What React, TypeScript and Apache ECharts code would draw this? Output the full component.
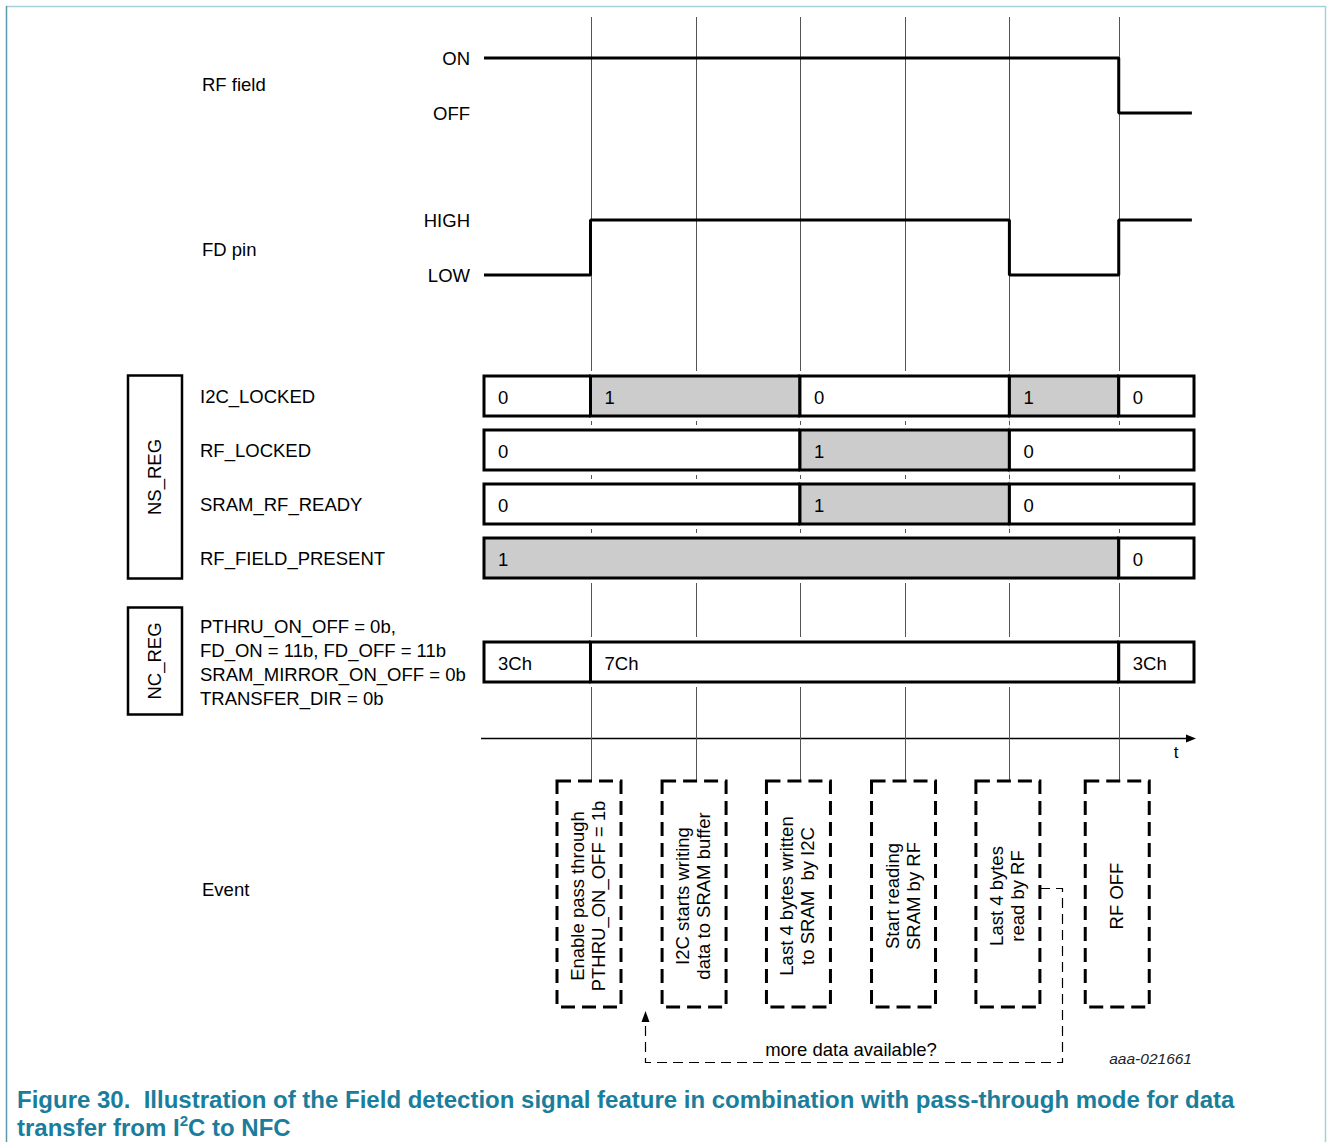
import React, { useEffect, useRef } from 'react';
import * as echarts from 'echarts';

const FF = "'Liberation Sans', Arial, Helvetica, sans-serif";
const FS = 18.5;

// time axis (arbitrary units)
const timeMin = 0;
const timeMax = 100;
const eventTimes = [15, 29.8, 44.5, 59.3, 74, 89.4];
const eventLabels = [
  'Enable pass through\nPTHRU_ON_OFF = 1b',
  'I2C starts writing\ndata to SRAM buffer',
  'Last 4 bytes written\nto SRAM  by I2C',
  'Start reading\nSRAM by RF',
  'Last 4 bytes\nread by RF',
  'RF OFF',
];

// waveforms
const rfLevels = ['OFF', 'ON'];
const rfField = [[0, 1], [89.4, 0], [99.7, 0]];
const fdLevels = ['LOW', 'HIGH'];
const fdPin = [[0, 0], [15, 1], [74, 0], [89.4, 1], [99.7, 1]];

// NS_REG bits: [value, start, end]
const nsRegNames = ['I2C_LOCKED', 'RF_LOCKED', 'SRAM_RF_READY', 'RF_FIELD_PRESENT'];
const i2cLocked = [['0', 0, 15], ['1', 15, 44.5], ['0', 44.5, 74], ['1', 74, 89.4], ['0', 89.4, 100]];
const rfLocked = [['0', 0, 44.5], ['1', 44.5, 74], ['0', 74, 100]];
const sramRfReady = [['0', 0, 44.5], ['1', 44.5, 74], ['0', 74, 100]];
const rfFieldPresent = [['1', 0, 89.4], ['0', 89.4, 100]];

// NC_REG
const ncRegSettings = [
  'PTHRU_ON_OFF = 0b,',
  'FD_ON = 11b, FD_OFF = 11b',
  'SRAM_MIRROR_ON_OFF = 0b',
  'TRANSFER_DIR = 0b',
];
const ncRegValues = [['3Ch', 0, 15], ['7Ch', 15, 89.4], ['3Ch', 89.4, 100]];

type Seg = { label: string; start: number; end: number; row: number; on: boolean };

function buildSegs(rows: any[][], grayValue: string | null): Seg[] {
  const out: Seg[] = [];
  rows.forEach((segs, r) => {
    segs.forEach((s: any) => {
      out.push({ label: s[0], start: s[1], end: s[2], row: r, on: grayValue !== null && s[0] === grayValue });
    });
  });
  return out;
}

const nsSegs = buildSegs([i2cLocked, rfLocked, sramRfReady, rfFieldPresent], '1');
const ncSegs = buildSegs([ncRegValues], null);

function segRender(segs: Seg[]) {
  return (params: any, api: any) => {
    const seg = segs[params.dataIndex];
    const p0 = api.coord([seg.start, seg.row]);
    const p1 = api.coord([seg.end, seg.row]);
    const band = api.size([0, 1])[1];
    const h = (band * 40) / 54;
    const halo = (band * 50) / 54;
    return {
      type: 'group',
      children: [
        { type: 'rect', shape: { x: p0[0], y: p0[1] - halo / 2, width: p1[0] - p0[0], height: halo }, style: { fill: '#fff' } },
        {
          type: 'rect',
          shape: { x: p0[0], y: p0[1] - h / 2, width: p1[0] - p0[0], height: h },
          style: { fill: seg.on ? '#cccccc' : '#ffffff', stroke: '#000', lineWidth: 3 },
        },
        {
          type: 'text',
          x: p0[0] + 14,
          y: p0[1] + 1,
          style: { text: seg.label, fontSize: FS, fontFamily: FF, fill: '#000', align: 'left', verticalAlign: 'middle' },
        },
      ],
    };
  };
}

const GL = 484;
const GW = 710;

export default function App() {
  const ref = useRef<HTMLDivElement>(null);
  useEffect(() => {
    if (!ref.current) return;
    const chart = echarts.init(ref.current, undefined, { renderer: 'svg' });
    const hiddenX = (gi: number) => ({ type: 'value', gridIndex: gi, min: timeMin, max: timeMax, show: false });
    const levelY = (gi: number, names: string[]) => ({
      type: 'value',
      gridIndex: gi,
      min: 0,
      max: 1,
      interval: 1,
      axisLine: { show: false },
      axisTick: { show: false },
      splitLine: { show: false },
      axisLabel: {
        formatter: (v: number) => names[v],
        fontSize: FS,
        fontFamily: FF,
        color: '#000',
        margin: 14,
        padding: [3, 0, 0, 0],
      },
    });
    const option: any = {
      animation: false,
      backgroundColor: '#fff',
      grid: [
        { left: GL, width: GW, top: 58, height: 55 },
        { left: GL, width: GW, top: 220, height: 55 },
        { left: GL, width: GW, top: 369, height: 216 },
        { left: GL, width: GW, top: 635, height: 54 },
        { left: GL, width: GW, top: 17, height: 763 },
        { left: GL, width: GW, top: 781, height: 226 },
      ],
      xAxis: [0, 1, 2, 3, 4, 5].map(hiddenX),
      yAxis: [
        levelY(0, rfLevels),
        levelY(1, fdLevels),
        {
          type: 'category',
          gridIndex: 2,
          inverse: true,
          data: nsRegNames,
          axisLine: { show: false },
          axisTick: { show: false },
          axisLabel: { align: 'left', margin: 284, fontSize: FS, fontFamily: FF, color: '#000', padding: [6, 0, 0, 0] },
        },
        {
          type: 'category',
          gridIndex: 3,
          data: ['NC_REG'],
          axisLine: { show: false },
          axisTick: { show: false },
          axisLabel: {
            align: 'left',
            margin: 284,
            fontSize: FS,
            lineHeight: 24,
            fontFamily: FF,
            color: '#000',
            padding: [2, 0, 0, 0],
            formatter: () => ncRegSettings.join('\n'),
          },
        },
        { type: 'value', gridIndex: 4, min: 0, max: 1, show: false },
        { type: 'value', gridIndex: 5, min: 0, max: 1, show: false },
      ],
      series: [
        {
          type: 'custom',
          name: 'event lines',
          xAxisIndex: 4,
          yAxisIndex: 4,
          z: 1,
          data: eventTimes.map((t) => [t, 0]),
          renderItem: (params: any, api: any) => {
            const x = Math.round(api.coord([api.value(0), 0])[0]) + 0.5;
            const cs = params.coordSys;
            return {
              type: 'line',
              shape: { x1: x, y1: cs.y, x2: x, y2: cs.y + cs.height },
              style: { stroke: '#555', lineWidth: 1 },
            };
          },
        },
        {
          type: 'line',
          name: 'RF field',
          xAxisIndex: 0,
          yAxisIndex: 0,
          step: 'end',
          data: rfField,
          symbol: 'none',
          clip: false,
          z: 5,
          lineStyle: { color: '#000', width: 3 },
        },
        {
          type: 'line',
          name: 'FD pin',
          xAxisIndex: 1,
          yAxisIndex: 1,
          step: 'end',
          data: fdPin,
          symbol: 'none',
          clip: false,
          z: 5,
          lineStyle: { color: '#000', width: 3 },
        },
        {
          type: 'custom',
          name: 'NS_REG',
          xAxisIndex: 2,
          yAxisIndex: 2,
          z: 3,
          data: nsSegs.map((s) => [s.start, s.row]),
          renderItem: segRender(nsSegs),
        },
        {
          type: 'custom',
          name: 'NC_REG',
          xAxisIndex: 3,
          yAxisIndex: 3,
          z: 3,
          data: ncSegs.map((s) => [s.start, s.row]),
          renderItem: segRender(ncSegs),
        },
        {
          type: 'custom',
          name: 'events',
          xAxisIndex: 5,
          yAxisIndex: 5,
          z: 3,
          data: eventTimes.map((t) => [t, 0]),
          renderItem: (params: any, api: any) => {
            const cx = api.coord([api.value(0), 0])[0] - 1.5;
            const cs = params.coordSys;
            const w = 64;
            return {
              type: 'group',
              children: [
                {
                  type: 'rect',
                  shape: { x: cx - w / 2, y: cs.y, width: w, height: cs.height },
                  style: { fill: 'none', stroke: '#000', lineWidth: 3, lineDash: [14, 7] },
                },
                {
                  type: 'text',
                  x: cx - 1,
                  y: cs.y + cs.height / 2 + 2,
                  rotation: Math.PI / 2,
                  style: {
                    text: eventLabels[params.dataIndex],
                    fontSize: FS,
                    lineHeight: 21,
                    fontFamily: FF,
                    fill: '#000',
                    align: 'center',
                    verticalAlign: 'middle',
                  },
                },
              ],
            };
          },
        },
      ],
      graphic: [
        // page frame
        { type: 'line', shape: { x1: 6, y1: 6.5, x2: 1325.5, y2: 6.5 }, style: { stroke: '#a6d0dc', lineWidth: 1.5 } },
        { type: 'line', shape: { x1: 1325.5, y1: 6, x2: 1325.5, y2: 1142 }, style: { stroke: '#a6d0dc', lineWidth: 1.5 } },
        { type: 'line', shape: { x1: 6.5, y1: 6, x2: 6.5, y2: 1142 }, style: { stroke: '#5b98ad', lineWidth: 1.5 } },
        // group labels
        { type: 'text', x: 202, y: 84, style: { text: 'RF field', fontSize: FS, fontFamily: FF, fill: '#000', verticalAlign: 'middle' } },
        { type: 'text', x: 202, y: 249, style: { text: 'FD pin', fontSize: FS, fontFamily: FF, fill: '#000', verticalAlign: 'middle' } },
        { type: 'text', x: 202, y: 889, style: { text: 'Event', fontSize: FS, fontFamily: FF, fill: '#000', verticalAlign: 'middle' } },
        // NS_REG box
        { type: 'rect', shape: { x: 128, y: 375.5, width: 54, height: 203 }, style: { fill: 'none', stroke: '#000', lineWidth: 2.5 } },
        {
          type: 'text', x: 154, y: 477, rotation: Math.PI / 2,
          style: { text: 'NS_REG', fontSize: FS, fontFamily: FF, fill: '#000', align: 'center', verticalAlign: 'middle' },
        },
        // NC_REG box
        { type: 'rect', shape: { x: 128, y: 607.5, width: 54, height: 107 }, style: { fill: 'none', stroke: '#000', lineWidth: 2.5 } },
        {
          type: 'text', x: 154, y: 661, rotation: Math.PI / 2,
          style: { text: 'NC_REG', fontSize: FS, fontFamily: FF, fill: '#000', align: 'center', verticalAlign: 'middle' },
        },
        // time axis
        { type: 'line', shape: { x1: 481, y1: 738.5, x2: 1188, y2: 738.5 }, style: { stroke: '#000', lineWidth: 1.5 } },
        { type: 'polygon', shape: { points: [[1196, 738.5], [1186, 734.5], [1186, 742.5]] }, style: { fill: '#000' } },
        { type: 'text', x: 1176, y: 752, style: { text: 't', fontSize: 17, fontFamily: FF, fill: '#000', align: 'center', verticalAlign: 'middle' } },
        // loop back "more data available?"
        {
          type: 'polyline',
          shape: { points: [[1040, 888.5], [1062.5, 888.5], [1062.5, 1062.5], [645.5, 1062.5], [645.5, 1020]] },
          style: { stroke: '#000', lineWidth: 1.2, lineDash: [10, 6], fill: 'none' },
        },
        { type: 'polygon', shape: { points: [[645.5, 1011], [641.5, 1022], [649.5, 1022]] }, style: { fill: '#000' } },
        {
          type: 'text', x: 851, y: 1049,
          style: { text: 'more data available?', fontSize: FS, fontFamily: FF, fill: '#000', align: 'center', verticalAlign: 'middle' },
        },
        {
          type: 'text', x: 1192, y: 1058,
          style: { text: 'aaa-021661', fontSize: 15.5, fontStyle: 'italic', fontFamily: FF, fill: '#222', align: 'right', verticalAlign: 'middle' },
        },
        // caption
        {
          type: 'text', x: 17, y: 1085,
          style: {
            text: '{b|Figure 30.  Illustration of the Field detection signal feature in combination with pass-through mode for data}\n{b|transfer from I}{s|2}{b|C to NFC}',
            fontFamily: FF,
            rich: {
              b: { fontSize: 24, fontWeight: 'bold', fontFamily: FF, fill: '#1a7d9c', lineHeight: 28 },
              s: { fontSize: 15, fontWeight: 'bold', fontFamily: FF, fill: '#1a7d9c', lineHeight: 15, verticalAlign: 'top' },
            },
          },
        },
      ],
    };
    chart.setOption(option);
    return () => chart.dispose();
  }, []);
  return <div ref={ref} style={{ position: 'fixed', left: 0, top: 0, width: 1328, height: 1142 }} />;
}
